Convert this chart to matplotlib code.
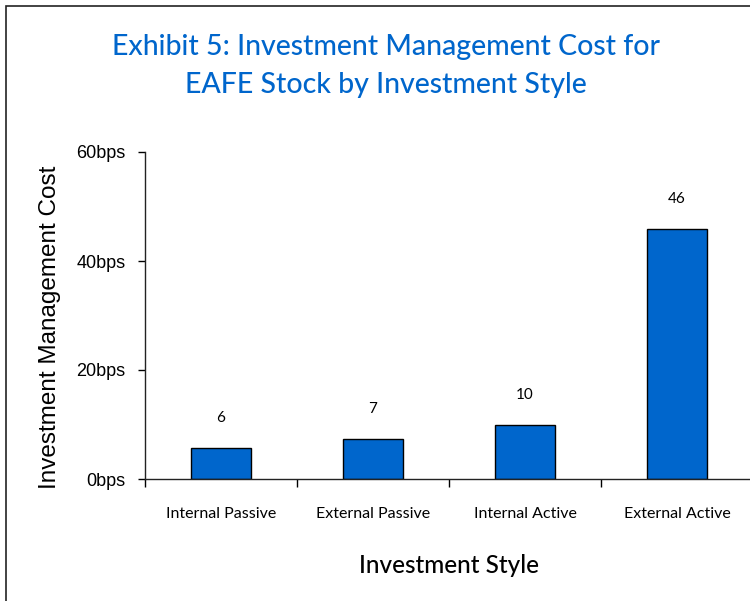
import matplotlib.pyplot as plt
import matplotlib.patches as patches
import numpy as np

styles = ['Internal Passive', 'External Passive', 'Internal Active', 'External Active']
cost = [5.7, 7.4, 9.9, 45.9]
cost_labels = ['6', '7', '10', '46']
yticks = [0, 20, 40, 60]
ytick_labels = ['0bps', '20bps', '40bps', '60bps']

blue = '#0066CC'

fig = plt.figure(figsize=(7.5, 6.01), dpi=100)
ax = fig.add_axes([145 / 750, 1 - 479 / 601, 608 / 750, 327 / 601])

x = np.arange(len(styles))
ax.bar(x, cost, width=0.4, color=blue, edgecolor='black', linewidth=1)
for xi, v, lab in zip(x, cost, cost_labels):
    ax.annotate(lab, (xi, v), xytext=(0, 30), textcoords='offset pixels',
                ha='center', va='center', fontsize=11, family='Lato')

ax.set_xlim(-0.5, 3.5)
ax.set_ylim(0, 60)
ax.set_xticks(x - 0.5, minor=False)
ax.set_xticklabels([])
ax.set_xticks(x, minor=True)
ax.set_xticklabels(styles, minor=True, fontsize=11.5, family='Lato')
ax.tick_params(axis='x', which='minor', length=0, pad=20)
ax.tick_params(axis='x', which='major', length=6, direction='out', width=1)
ax.set_yticks(yticks)
ax.set_yticklabels(ytick_labels, fontsize=13, family='Liberation Sans')
ax.tick_params(axis='y', length=5, width=1, pad=9)

for s in ['top', 'right']:
    ax.spines[s].set_visible(False)
for s in ['left', 'bottom']:
    ax.spines[s].set_linewidth(1)
    ax.spines[s].set_color('#222222')

ax.set_xlabel('Investment Style', fontsize=17.5, family='Lato', fontweight='medium', labelpad=24)
ax.set_ylabel('Investment Management Cost', fontsize=17.5, family='Liberation Sans', labelpad=11)
ax.yaxis.label.set_y(0.465)

fig.text(386 / 750, 1 - 66 / 601, 'Exhibit 5: Investment Management Cost for\nEAFE Stock by Investment Style',
         ha='center', va='center', color=blue, fontsize=20.5, family='Lato', fontweight='medium',
         linespacing=1.6)

fig.patches.append(patches.Rectangle((6 / 750, -0.1), 1.2, 1 - 6 / 601 + 0.1, transform=fig.transFigure,
                                     fill=False, edgecolor='#222222', linewidth=1.2, figure=fig))

fig.savefig('out.png', dpi=100)
